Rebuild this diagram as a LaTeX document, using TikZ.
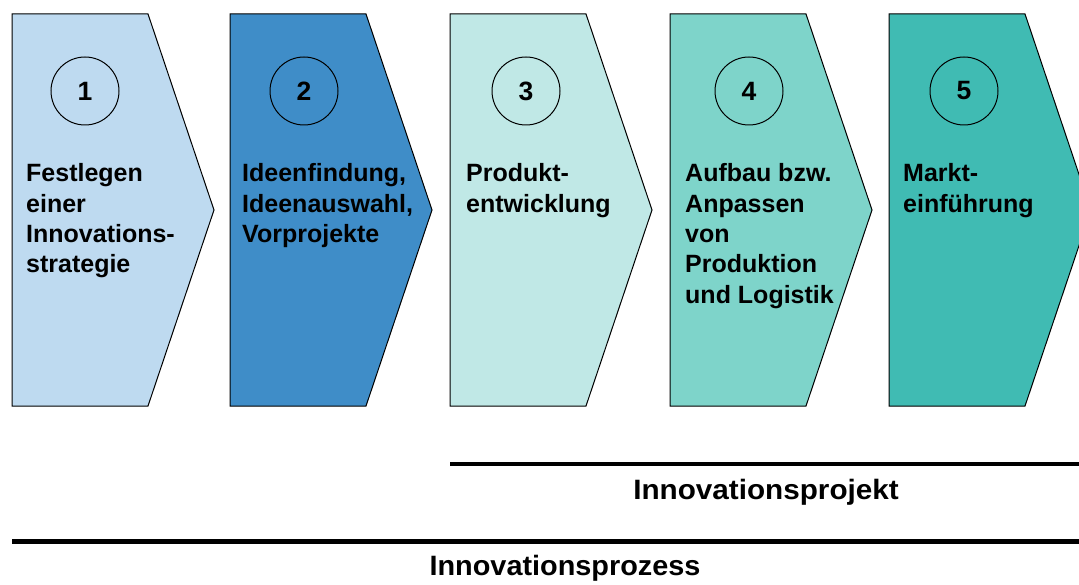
\documentclass[tikz,border=0pt]{standalone}
\usepackage{fontspec}
\setmainfont{Liberation Sans}
\definecolor{cA}{RGB}{190,218,240}
\definecolor{cB}{RGB}{63,141,200}
\definecolor{cC}{RGB}{192,232,230}
\definecolor{cD}{RGB}{126,212,202}
\definecolor{cE}{RGB}{64,187,179}
\tikzset{
  chev/.style={draw=black, line width=1pt},
  numcirc/.style={circle, draw=black, line width=1pt, minimum size=68pt, inner sep=0pt,
    font=\fontsize{26.5}{30}\selectfont\bfseries},
  boxtext/.style={anchor=base west, inner sep=0pt},
  bartext/.style={anchor=base, inner sep=0pt, font=\fontsize{28}{32}\selectfont\bfseries},
}
\newcommand{\btxt}[1]{\parbox[t]{220pt}{\fontsize{25}{30.3}\selectfont\bfseries\raggedright #1}}
\begin{document}
\begin{tikzpicture}[x=1pt,y=-1pt]
\useasboundingbox (0,0) rectangle (1079,585);
\clip (0,0) rectangle (1079,585);
\fill[white] (0,0) rectangle (1079,585);
% chevrons
\foreach \l/\c in {12/cA,230/cB,450/cC,670/cD,889/cE}{
  \draw[chev, fill=\c] (\l,14) -- (\l+136,14) -- (\l+202,210) -- (\l+136,406) -- (\l,406) -- cycle;
}
% circles
\node[numcirc] (n1) at (85,91) {1};
\node[numcirc] (n2) at (304,91) {2};
\node[numcirc] (n3) at (526,91) {3};
\node[numcirc] (n4) at (749,91) {4};
\node[numcirc] (n5) at (964,91) {5};
% texts
\node[boxtext] (t1) at (26,182) {\btxt{Festlegen\\einer\\Innovations-\\strategie}};
\node[boxtext] (t2) at (242,182) {\btxt{Ideenfindung,\\Ideenauswahl,\\Vorprojekte}};
\node[boxtext] (t3) at (466,182) {\btxt{Produkt-\\entwicklung}};
\node[boxtext] (t4) at (685,182) {\btxt{Aufbau bzw.\\Anpassen\\von\\Produktion\\und Logistik}};
\node[boxtext] (t5) at (903,182) {\btxt{Markt-\\einführung}};
% bars
\coordinate (pA) at (450,464);
\coordinate (pB) at (1079,464);
\coordinate (qA) at (12,541);
\coordinate (qB) at (1079,541);
\draw[line width=3.5pt] (pA) -- (pB);
\draw[line width=5pt] (qA) -- (qB);
\node[bartext] (proj) at (766,499) {\scalebox{1.06}[1]{Innovationsprojekt}};
\node[bartext] (proz) at (565,575) {\scalebox{1.03}[1]{Innovationsprozess}};
\end{tikzpicture}
\end{document}
